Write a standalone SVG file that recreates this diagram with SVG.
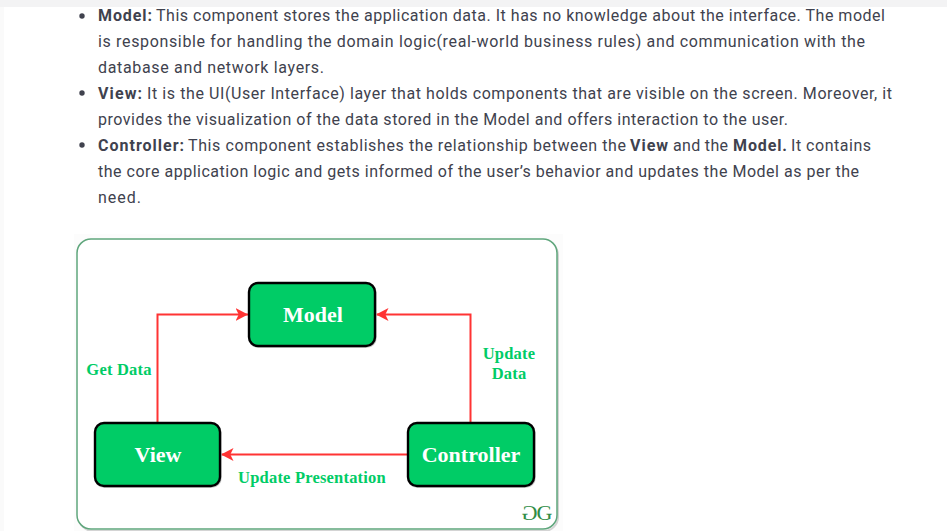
<svg xmlns="http://www.w3.org/2000/svg" width="947" height="531" viewBox="0 0 947 531">
<defs>
<style>
.b{font-family:"Roboto","Liberation Sans",sans-serif;font-size:16px;fill:#40424e}
.s{font-weight:700}
.box{fill:#00cc66;stroke:#000;stroke-width:2.4}
.sh{fill:none;stroke:#c8c8c8;stroke-width:1.5}
.nl{font-family:"Liberation Serif",serif;font-weight:700;font-size:22px;fill:#fff;text-anchor:middle}
.el{font-family:"Liberation Serif",serif;font-weight:700;font-size:16.5px;letter-spacing:.2px;fill:#00cc66;text-anchor:middle}
.c{fill:none;stroke:#ff3333;stroke-width:2}
</style>
<marker id="a" viewBox="0 0 13 13" refX="12.500" refY="6.500" markerWidth="13" markerHeight="13" markerUnits="userSpaceOnUse" orient="auto"><path d="M0 0L12.500 6.500L0 13L3.200 6.500Z" fill="#ff3333"/></marker>
</defs>
<rect width="947" height="531" fill="#fff"/>
<rect x="0" y="0" width="947" height="7" fill="#f3f3f4"/>
<rect x="0" y="7" width="4" height="524" fill="#fafafa"/>
<g id="text">
<circle cx="82" cy="16" r="2.700" fill="#40424e"/>
<circle cx="82" cy="93" r="2.700" fill="#40424e"/>
<circle cx="82" cy="145" r="2.700" fill="#40424e"/>
<text class="b s" x="98" y="21" textLength="54">Model:</text>
<text class="b" x="156" y="21" textLength="729">This component stores the application data. It has no knowledge about the interface. The model</text>
<text class="b" x="98" y="47" textLength="767">is responsible for handling the domain logic(real-world business rules) and communication with the</text>
<text class="b" x="98" y="73" textLength="226">database and network layers.</text>
<text class="b s" x="98" y="99" textLength="44">View:</text>
<text class="b" x="147" y="99" textLength="745">It is the UI(User Interface) layer that holds components that are visible on the screen. Moreover, it</text>
<text class="b" x="98" y="125" textLength="690">provides the visualization of the data stored in the Model and offers interaction to the user.</text>
<text class="b s" x="98" y="151" textLength="86">Controller:</text>
<text class="b" x="188" y="151" textLength="438">This component establishes the relationship between the</text>
<text class="b s" x="630" y="151" textLength="38">View</text>
<text class="b" x="673" y="151" textLength="55">and the</text>
<text class="b s" x="733" y="151" textLength="54">Model.</text>
<text class="b" x="791" y="151" textLength="80">It contains</text>
<text class="b" x="98" y="177" textLength="761">the core application logic and gets informed of the user’s behavior and updates the Model as per the</text>
<text class="b" x="98" y="203" textLength="43">need.</text>
</g>
<g id="frame">
<rect x="74" y="234" width="489" height="297" fill="#fcfcfc"/>
<rect x="79" y="241" width="479" height="290" rx="14" fill="none" stroke="#d4d4d4" stroke-width="2"/>
<rect x="77" y="239" width="480" height="290" rx="14" fill="#fff" stroke="#5fa67c" stroke-width="1.500"/>
</g>
<g id="connectors">
<path class="c" marker-end="url(#a)" d="M157.500 423V314.500H248"/>
<path class="c" marker-end="url(#a)" d="M470.500 423V314.500H376"/>
<path class="c" marker-end="url(#a)" d="M407 454.500H221"/>
</g>
<g id="model"><rect class="sh" x="249" y="284" width="127" height="63" rx="9"/><rect class="box" x="249" y="283" width="126" height="63" rx="9"/><text class="nl" x="313" y="322">Model</text></g>
<g id="view"><rect class="sh" x="95" y="424" width="126" height="63" rx="9"/><rect class="box" x="95" y="423" width="125" height="63" rx="9"/><text class="nl" x="158" y="462">View</text></g>
<g id="controller"><rect class="sh" x="408" y="424" width="127" height="63" rx="9"/><rect class="box" x="408" y="423" width="126" height="63" rx="9"/><text class="nl" x="471" y="462">Controller</text></g>
<g id="labels">
<text class="el" x="119" y="374.500">Get Data</text>
<text class="el" x="509" y="359">Update</text>
<text class="el" x="509" y="379">Data</text>
<text class="el" x="312" y="482.500">Update Presentation</text>
</g>
<g id="logo" font-family="Liberation Serif, serif" font-size="22" fill="#2f8d46">
<text transform="translate(529.500 520) scale(-1 1)" text-anchor="middle">G</text>
<text x="544.500" y="520" text-anchor="middle">G</text>
</g>
</svg>
